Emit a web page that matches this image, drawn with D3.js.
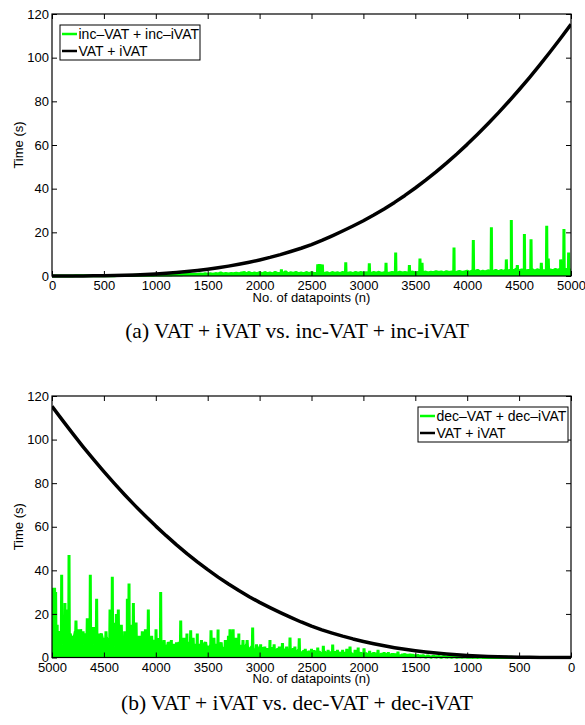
<!DOCTYPE html>
<html><head><meta charset="utf-8">
<script src="https://cdn.jsdelivr.net/npm/d3@7"></script>
<style>body{margin:0;background:#fff} svg{display:block}</style>
</head><body><svg id="c" width="585" height="725"></svg>
<script>
// ---------- data ----------
const xTicks = [0,500,1000,1500,2000,2500,3000,3500,4000,4500,5000];
const yTicks = [0,20,40,60,80,100,120];

// VAT + iVAT (s), n = 0..5000 step 100
const vatN = d3.range(0, 5001, 100);
const vatTime = [
  0,0,0.01,0.02,0.06,0.12,0.2,0.32,0.47,0.67,
  0.92,1.22,1.59,2.02,2.52,3.1,3.77,4.52,5.37,6.31,
  7.36,8.52,9.8,11.2,12.7,14.4,16.3,18.4,20.6,22.9,
  25.3,27.9,30.7,33.7,36.9,40.3,43.9,47.7,51.7,55.9,
  60.3,64.9,69.7,74.7,79.9,85.3,90.9,96.7,102.7,108.9,
  115.3
];

// inc-VAT + inc-iVAT (s): background level, n = 0..5000 step 25
const incN = d3.range(0, 5001, 25);
const incTime = [
  0,0.02,0.02,0.03,0.03,0.04,0.04,0.05,
  0.05,0.06,0.06,0.07,0.07,0.08,0.08,0.09,
  0.1,0.1,0.12,0.12,0.13,0.14,0.15,0.16,
  0.17,0.18,0.2,0.2,0.22,0.24,0.25,0.27,
  0.3,0.32,0.35,0.33,0.38,0.4,0.42,0.4,
  0.45,0.5,0.4,0.55,0.5,0.6,0.5,0.65,
  0.6,0.7,0.55,0.75,0.65,0.8,0.7,0.85,
  0.7,0.9,0.75,1.0,0.8,1.0,0.85,1.1,
  0.9,1.5,0.9,1.2,0.95,1.1,1.0,1.3,
  1.0,1.4,1.2,1.1,1.6,1.0,1.4,1.1,
  1.5,1.0,1.6,1.1,1.4,1.0,1.7,1.1,
  1.3,1.1,2.0,1.0,1.5,1.2,1.6,1.1,
  1.4,1.0,1.6,1.1,1.5,1.2,1.3,1.5,
  1.3,1.2,1.5,1.0,1.6,1.2,1.5,1.1,
  1.6,1.4,1.3,1.5,1.1,1.7,1.2,1.6,
  1.3,1.5,1.4,1.2,1.6,1.3,1.7,1.2,
  1.5,1.4,1.3,1.6,1.5,1.2,1.8,1.4,
  1.6,1.4,1.5,1.8,1.4,1.6,1.7,1.5,
  1.8,1.4,1.7,1.5,2.0,1.6,1.9,1.4,
  2.0,1.6,1.8,1.5,1.7,2.1,1.6,1.9,
  2.2,1.7,2.4,2.0,2.6,1.8,2.2,1.9,
  2.4,2.0,2.0,2.6,1.9,2.5,2.1,2.7,
  2.3,2.9,2.4,3.2,2.2,2.8,2.5,2.4,
  2.6,3.0,2.2,2.9,2.4,2.5,2.4,3.1,
  2.8,2.4,3.0,2.6,3.3,2.5,3.0,2.7,
  2.8
];
// inc-VAT + inc-iVAT (s): individual peaks
const incPeakN = [1850,2210,2560,2575,2590,2605,2830,3057,3218,3311,3443,3545,3565,3873,4059,
  4233,4377,4425,4483,4551,4615,4714,4766,4781,4900,4932,4977];
const incPeakT = [2.2,3.0,5.3,5.5,5.4,5.3,6.3,5.8,6.1,10.7,5.0,8.0,6.0,13.1,16.5,
  22.3,7.6,25.6,5.0,19.2,16.8,6.0,23.0,8.0,7.6,21.5,10.7];

// dec-VAT + dec-iVAT (s): background level, n = 5000..0 step 25
const decN = d3.range(5000, -1, -25);
const decTime = [
  6,11,7,12,6,10,7,11,
  6,12,7,10,6,11,7,10,
  6,10,7,11,5,9,6,10,
  5,9,6,8,5,10,6,8,
  5,8,5,9,6,8,5,8,
  4,7,3.5,6.5,4,7,3.5,6,
  3.5,7,4,6,3.5,7,3.5,6,
  3.5,6,3.5,7,3.5,5.5,3.5,6,
  3.5,6,3,5.5,3.5,7,3,6,
  3,5.5,3,6,3,5,2.5,5,
  2.2,4.5,2,4,2.2,4.5,2,4,
  2,4,1.8,3.5,2,4,1.8,3.5,
  1.5,3,1.4,2.8,1.5,3,1.3,2.6,
  1.2,2.6,1.2,2.4,1.1,2.6,1.1,2.2,
  1,2.2,0.9,2.3,0.9,2,0.9,2.1,
  0.8,1.9,0.8,1.7,0.7,1.8,0.6,1.6,
  0.6,1.5,0.5,1.6,0.5,1.4,0.5,1.3,
  0.4,1.2,0.4,1.1,0.35,1.0,0.3,0.9,
  0.12,0.7,0.12,0.6,0.1,0.55,0.1,0.5,
  0.1,0.45,0.08,0.4,0.08,0.35,0.06,0.3,
  0.06,0.25,0.05,0.2,0.05,0.18,0.04,0.15,
  0.04,0.12,0.03,0.1,0.03,0.08,0.02,0.07,
  0.02,0.06,0.02,0.05,0.02,0.04,0.01,0.03,
  0.01,0.03,0.01,0.02,0.01,0.02,0.01,0.01,
  0,0.01,0,0.01,0,0.01,0,0,
  0
];
// dec-VAT + dec-iVAT (s): individual peaks
const decPeakN = [4995,4985,4975,4965,4950,4907,4875,4860,4836,4800,4769,4745,4724,4700,4660,4631,4600,4570,
  4545,4510,4480,4441,4419,4400,4380,4361,4332,4300,4274,4258,4230,4216,4190,4160,4130,4100,4072,4040,
  3998,3975,3953,3920,3880,3850,3800,3760,3730,3700,3664,3640,3600,3560,3520,3468,3440,3400,3370,3330,
  3300,3285,3255,3230,3200,3160,3120,3067,3030,2990,2950,2900,2860,2810,2780,2740,2707,2660,2618,2560,
  2500,2440,2386,2340,2296,2250,2200,2160,2129,2080,2050,1994,1940,1900,1859,1800,1760,1700,1667,1600,
  1550,1500,1440,1380,1300,1200];
const decPeakT = [31,32,32,30,15,38,25,22,47,10,17,13,13,12,18,38,14,27,
  11,9,12,22,37,16,20,22,15,12,27,34,15,25,16,10,12,13,22,10,
  13,9,30,8,7,8,7,17,9,11,12.5,9,11,8,7,12.5,9,12.8,7,8,
  10,13,13,9,11,8,8,13.7,6,6,5,8,6,5,6.6,5,9.2,5,8.8,4,
  4,4.5,5.4,3.5,6,3.5,3.5,4,5,3.5,4.6,4.2,3,2.5,3.5,2.5,2.5,2,2.7,2,
  1.8,1.5,1.3,1.2,1,0.8];

const legendTop = ["inc\u2013VAT + inc\u2013iVAT", "VAT + iVAT"];
const legendBottom = ["dec\u2013VAT + dec\u2013iVAT", "VAT + iVAT"];
const captionTop = "(a) VAT + iVAT vs. inc-VAT + inc-iVAT";
const captionBottom = "(b) VAT + iVAT vs. dec-VAT + dec-iVAT";
const xLabel = "No. of datapoints (n)";
const yLabel = "Time (s)";

// ---------- drawing ----------
const svg = d3.select("#c");
const SANS = "'Liberation Sans', Arial, Helvetica, sans-serif";
const SERIF = "'Liberation Serif', 'Times New Roman', serif";
const GREEN = "#00ff00";

// combine background samples and peaks into one ordered trace
function trace(baseN, baseT, peakN, peakT) {
  const base = baseN.map((n, i) => [n, baseT[i]]).sort((a, b) => a[0] - b[0]);
  const level = n => {
    const i = d3.bisector(d => d[0]).right(base, n);
    if (i <= 0) return base[0][1];
    if (i >= base.length) return base[base.length - 1][1];
    const a = base[i - 1], b = base[i];
    return a[1] + (b[1] - a[1]) * (n - a[0]) / (b[0] - a[0]);
  };
  const pts = base.slice();
  peakN.forEach((n, i) => {
    pts.push([n - 3, level(n - 3)], [n, peakT[i]], [n + 3, level(n + 3)]);
  });
  return pts.sort((a, b) => a[0] - b[0]);
}

function panel(cfg) {
  const L = 52, R = 571, T = cfg.top, B = cfg.bottom;
  const x = d3.scaleLinear().domain(cfg.xDomain).range([L, R]);
  const y = d3.scaleLinear().domain([0, 120]).range([B, T]);
  const g = svg.append("g");

  const clipId = "clip" + cfg.id;
  svg.append("clipPath").attr("id", clipId)
    .append("rect").attr("x", L).attr("y", T - 2).attr("width", R - L).attr("height", B - T + 4);

  const line = d3.line().x(d => x(d[0])).y(d => y(d[1]));
  const area = d3.area().x(d => x(d[0])).y0(y(0)).y1(d => y(d[1]));
  const greenData = trace(cfg.gN, cfg.gT, cfg.pN, cfg.pT);
  const vatData = vatN.map((n, i) => [n, vatTime[i]]);

  const plot = g.append("g").attr("clip-path", `url(#${clipId})`);
  plot.append("path").datum(greenData).attr("d", area).attr("fill", GREEN);
  plot.append("path").datum(greenData).attr("d", line)
    .attr("fill", "none").attr("stroke", GREEN).attr("stroke-width", 3).attr("stroke-linejoin", "bevel");
  plot.append("path").datum(vatData).attr("d", line)
    .attr("fill", "none").attr("stroke", "#000").attr("stroke-width", 3.5).attr("stroke-linejoin", "round");

  // axes
  const ax = (a) => a.tickSizeInner(-5).tickSizeOuter(0);
  const fmt = d3.format("d");
  const xb = g.append("g").attr("transform", `translate(0,${B})`)
    .call(ax(d3.axisBottom(x).tickValues(xTicks).tickFormat(fmt)).tickPadding(5));
  const xt = g.append("g").attr("transform", `translate(0,${T})`)
    .call(ax(d3.axisTop(x).tickValues(xTicks).tickFormat("")));
  const yl = g.append("g").attr("transform", `translate(${L},0)`)
    .call(ax(d3.axisLeft(y).tickValues(yTicks).tickFormat(fmt)).tickPadding(3));
  const yr = g.append("g").attr("transform", `translate(${R},0)`)
    .call(ax(d3.axisRight(y).tickValues(yTicks).tickFormat("")));
  [xb, xt, yl, yr].forEach(s => {
    s.select(".domain").remove();
    s.selectAll("line").attr("stroke", "#000").attr("stroke-width", 1);
    s.selectAll("text").attr("font-family", SANS).attr("font-size", 13).attr("fill", "#000");
  });

  g.append("rect").attr("x", L).attr("y", T).attr("width", R - L).attr("height", B - T)
    .attr("fill", "none").attr("stroke", "#000").attr("stroke-width", 1.2);

  // labels
  g.append("text").attr("x", (L + R) / 2).attr("y", B + 25.5).attr("text-anchor", "middle")
    .attr("font-family", SANS).attr("font-size", 13).text(xLabel);
  g.append("text").attr("transform", `translate(23,${(T + B) / 2}) rotate(-90)`).attr("text-anchor", "middle")
    .attr("font-family", SANS).attr("font-size", 13).text(yLabel);

  // legend
  const lg = g.append("g");
  lg.append("rect").attr("x", cfg.lx).attr("y", cfg.ly).attr("width", cfg.lw).attr("height", 35)
    .attr("fill", "#fff").attr("stroke", "#000").attr("stroke-width", 1);
  const cols = [GREEN, "#000"];
  cfg.legend.forEach((t, i) => {
    const yy = cfg.ly + 9 + i * 17;
    lg.append("line").attr("x1", cfg.lx + 2).attr("x2", cfg.lx + 17).attr("y1", yy).attr("y2", yy)
      .attr("stroke", cols[i]).attr("stroke-width", 2.5);
    lg.append("text").attr("x", cfg.lx + 18.5).attr("y", yy + 5).attr("font-family", SANS)
      .attr("font-size", 14).text(t);
  });

  // caption
  svg.append("text").attr("x", 297).attr("y", cfg.capY).attr("text-anchor", "middle")
    .attr("font-family", SERIF).attr("font-size", 21.5).text(cfg.caption);
}

panel({ id: "a", top: 14, bottom: 276, xDomain: [0, 5000], gN: incN, gT: incTime, pN: incPeakN, pT: incPeakT,
  legend: legendTop, lx: 60, ly: 25, lw: 140, caption: captionTop, capY: 338 });
panel({ id: "b", top: 396, bottom: 657.5, xDomain: [5000, 0], gN: decN, gT: decTime, pN: decPeakN, pT: decPeakT,
  legend: legendBottom, lx: 418, ly: 407, lw: 150, caption: captionBottom, capY: 710 });
</script></body></html>
